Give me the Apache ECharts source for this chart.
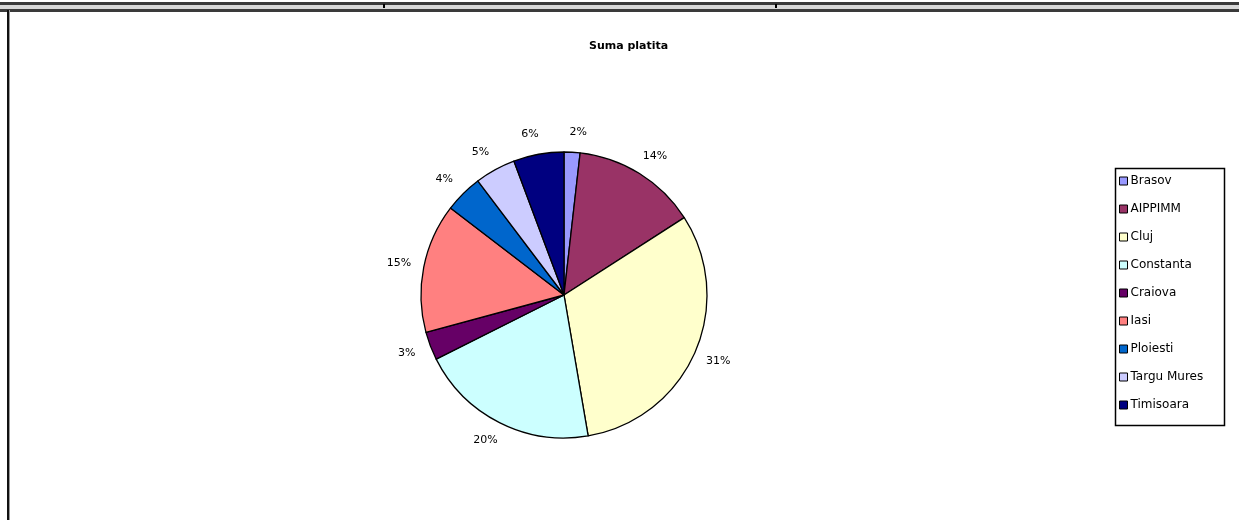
<!DOCTYPE html>
<html>
<head>
<meta charset="utf-8">
<script src="https://cdn.jsdelivr.net/npm/echarts@6/dist/echarts.min.js"></script>
<style>
html,body{margin:0;padding:0;background:#fff;}
#chart{width:1239px;height:520px;}
</style>
</head>
<body>
<div id="chart"></div>
<script>
const titleText = 'Suma platita';
const categories = ['Brasov', 'AIPPIMM', 'Cluj', 'Constanta', 'Craiova', 'Iasi', 'Ploiesti', 'Targu Mures', 'Timisoara'];
const values = [1.8, 14.1, 31.4, 20.3, 3.2, 14.6, 4.3, 4.6, 5.7];
const colors = ['#9999FF', '#993366', '#FFFFCC', '#CCFFFF', '#660066', '#FF8080', '#0066CC', '#CCCCFF', '#000080'];

const chart = echarts.init(document.getElementById('chart'), null, {renderer: 'canvas'});
const FONT = '"DejaVu Sans", "Liberation Sans", Arial, sans-serif';

const option = {
  animation: false,
  backgroundColor: '#ffffff',
  color: colors,
  title: {
    text: titleText,
    left: 584,
    top: 36,
    textStyle: {fontFamily: FONT, fontSize: 11, fontWeight: 'bold', color: '#000'}
  },
  legend: {
    orient: 'vertical',
    left: 1119,
    top: 174,
    icon: 'rect',
    itemWidth: 8,
    itemHeight: 8,
    itemGap: 14,
    padding: 0,
    selectedMode: false,
    itemStyle: {borderColor: '#000', borderWidth: 1},
    textStyle: {fontFamily: FONT, fontSize: 12, color: '#000', lineHeight: 14, padding: [0, 0, 0, -2]},
    data: categories
  },
  graphic: [
    {type: 'rect', silent: true, shape: {x: 0, y: 2, width: 1239, height: 3}, style: {fill: '#3a3a3a'}},
    {type: 'rect', silent: true, shape: {x: 0, y: 5, width: 1239, height: 4}, style: {fill: '#d8d8d8'}},
    {type: 'rect', silent: true, shape: {x: 0, y: 9, width: 1239, height: 3}, style: {fill: '#3a3a3a'}},
    {type: 'rect', silent: true, shape: {x: 383, y: 4, width: 2, height: 4}, style: {fill: '#000'}},
    {type: 'rect', silent: true, shape: {x: 775, y: 4, width: 2, height: 4}, style: {fill: '#000'}},
    {type: 'rect', silent: true, shape: {x: 7, y: 10, width: 2, height: 510}, style: {fill: '#111'}},
    {type: 'rect', silent: true, shape: {x: 9, y: 10, width: 1, height: 510}, style: {fill: '#9a9a9a'}},
    {type: 'rect', silent: true, shape: {x: 1115.5, y: 168.5, width: 109, height: 257}, style: {fill: 'none', stroke: '#000', lineWidth: 1.5}}
  ],
  series: [{
    type: 'pie',
    center: [564, 295],
    radius: 143,
    startAngle: 90,
    clockwise: true,
    avoidLabelOverlap: false,
    data: categories.map((name, i) => ({name: name, value: values[i]})),
    itemStyle: {borderColor: '#000', borderWidth: 1.3},
    label: {
      show: true,
      position: 'outside',
      fontFamily: FONT,
      fontSize: 11,
      color: '#000',
      formatter: p => Math.round(p.percent) + '%'
    },
    labelLine: {show: false, length: 20, length2: 0},
    labelLayout: function () { return {align: 'center', verticalAlign: 'middle', hideOverlap: false}; },
    emphasis: {disabled: true}
  }]
};
chart.setOption(option);
</script>
</body>
</html>
